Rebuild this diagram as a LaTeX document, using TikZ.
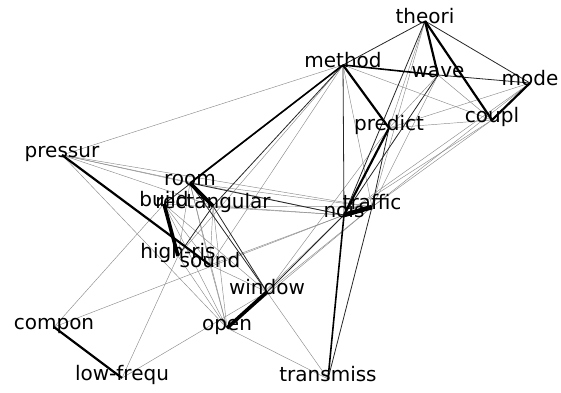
\documentclass[tikz,border=0pt]{standalone}
\usepackage{fontspec}
\setmainfont{DejaVu Sans}
\pgfdeclarelayer{bg}
\pgfsetlayers{bg,main}
\begin{document}
\begin{tikzpicture}[x=1pt,y=-1pt,
  word/.style={inner sep=0pt,font=\fontsize{20}{24}\selectfont,text height=0.76em,text depth=0.24em,anchor=center},
  eg/.style={draw=black!45,line width=0.45pt},
  ed/.style={draw=black!85,line width=0.8pt},
  em/.style={draw=black,line width=1.6pt},
  et/.style={draw=black,line width=2.2pt},
  eT/.style={draw=black,line width=3.6pt},
  eTT/.style={draw=black,line width=4.6pt}]
\useasboundingbox (0,0) rectangle (561,392);
\node[word] (theori) at (425,21) {theori};
\node[word] (method) at (343,65) {method};
\node[word] (wave) at (438,75) {wave};
\node[word] (mode) at (530,83) {mode};
\node[word] (coupl) at (492,120) {coupl};
\node[word] (predict) at (389,128) {predict};
\node[word] (pressur) at (62,155) {pressur};
\node[word] (room) at (190,183) {room};
\node[word] (build) at (164,204) {build};
\node[word] (rect) at (213,206) {rectangular};
\node[word] (traffic) at (372,207) {traffic};
\node[word] (nois) at (344,215) {nois};
\node[word] (highris) at (178,256) {high-ris};
\node[word] (sound) at (210,265) {sound};
\node[word] (window) at (267,292) {window};
\node[word] (open) at (227,328) {open};
\node[word] (compon) at (54,327) {compon};
\node[word] (lowf) at (122,378) {low-frequ};
\node[word] (transmiss) at (328,379) {transmiss};
\begin{pgfonlayer}{bg}
% gray thin edges
\foreach \a/\b in {pressur/method,pressur/room,pressur/rect,pressur/nois,pressur/traffic,pressur/open,
  method/coupl,method/traffic,method/sound,method/highris,theori/traffic,theori/predict,
  wave/coupl,wave/predict,wave/traffic,mode/predict,mode/nois,mode/traffic,
  coupl/predict,coupl/traffic,coupl/nois,room/traffic,room/sound,room/highris,room/open,
  rect/nois,rect/traffic,rect/open,rect/sound,build/window,build/open,build/nois,build/sound,
  compon/build,compon/nois,lowf/highris,lowf/window,highris/open,sound/open,sound/nois,
  sound/window,window/traffic,window/transmiss,open/transmiss,open/nois,open/traffic,predict/window}
  \path[eg] (\a.center) -- (\b.center);
% dark thin edges
\foreach \a/\b in {theori/method,theori/mode,wave/mode,method/nois,traffic/transmiss,room/nois,
  room/window,rect/window,highris/rect,window/nois,predict/traffic,method/build,method/rect,
  theori/nois,wave/nois}
  \path[ed] (\a.center) -- (\b.center);
% medium
\foreach \a/\b in {nois/transmiss,method/room,method/wave}
  \path[em] (\a.center) -- (\b.center);
\foreach \a/\b in {compon/lowf,pressur/sound,method/predict,predict/nois,theori/wave,theori/coupl,mode/coupl}
  \path[et] (\a.center) -- (\b.center);
\foreach \a/\b in {room/rect,build/highris,window/open}
  \path[eT] (\a.center) -- (\b.center);
\path[eTT] (nois.center) -- (traffic.center);
\end{pgfonlayer}
\end{tikzpicture}
\end{document}
